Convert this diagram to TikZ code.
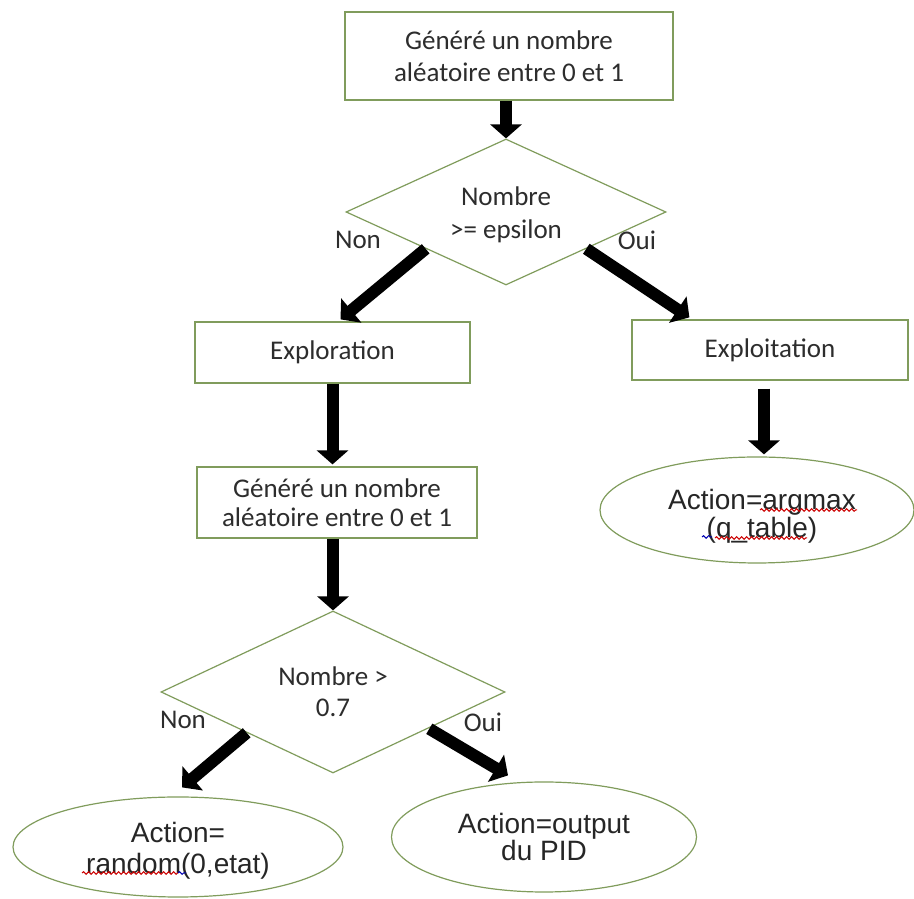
\documentclass[tikz,border=0pt]{standalone}
\usepackage{fontspec}
\setmainfont{Carlito}
\newfontfamily\arialfont{Liberation Sans}
\usetikzlibrary{shapes.geometric,arrows.meta,decorations.pathmorphing,calc}
\definecolor{boxgreen}{RGB}{128,156,92}
\definecolor{inkgray}{RGB}{45,45,45}
\tikzset{
  flowbox/.style={draw=boxgreen, line width=1.2pt, fill=white, inner sep=0pt,
    align=center, text=inkgray, font=\fontsize{27}{32}\selectfont},
  decision/.style={diamond, draw=boxgreen, line width=1.2pt, inner sep=0pt,
    shape aspect=2.2, align=center, text=inkgray, font=\fontsize{27}{31}\selectfont},
  outcome/.style={ellipse, draw=boxgreen, line width=1.2pt, inner sep=0pt,
    align=center, text=black!85},
  branch/.style={text=inkgray, font=\fontsize{27}{32}\selectfont},
  flow/.style={line width=12pt, -{Triangle[width=31pt,length=14pt]}},
  spell/.style={draw=red!80!black, line width=1pt, decorate,
    decoration={snake, amplitude=1.3pt, segment length=5pt}},
  grammar/.style={spell, draw=blue!70!black},
}
\begin{document}
\begin{tikzpicture}[x=1pt,y=1pt]
  \useasboundingbox[fill=white] (0,0) rectangle (914,899);

  % first draw
  \node[flowbox, minimum width=328pt, minimum height=88pt] (gen1) at (509,843)
    {Généré un nombre\\aléatoire entre 0 et 1};
  \node[decision, minimum width=320pt, minimum height=146pt,
        font=\fontsize{27}{33}\selectfont] (d1) at (506,687)
    {\rule{0pt}{24pt}Nombre\\>= epsilon};
  \node[branch] (non1) at (358,659) {Non};
  \node[branch] (oui1) at (637,659) {Oui};

  % exploration / exploitation
  \node[flowbox, minimum width=275pt, minimum height=61pt] (expl) at (332.5,546.5)
    {Exploration};
  \node[flowbox, minimum width=276pt, minimum height=60pt] (xploit) at (770,549)
    {Exploitation};
  \node[flowbox, minimum width=280pt, minimum height=71pt,
        font=\fontsize{27}{29}\selectfont] (gen2) at (337,396.5)
    {Généré un nombre\\aléatoire entre 0 et 1};
  \node[outcome, minimum width=314pt, minimum height=106pt,
        font=\arialfont\fontsize{28}{28}\selectfont] (ell3) at (757,389)
    {\hspace*{10pt}\rule{0pt}{32pt}Action=argmax\\\hspace*{10pt}(q\_table)};

  % second draw
  \node[decision, minimum width=344pt, minimum height=162pt] (d2) at (333,207)
    {Nombre >\\0.7};
  \node[branch] (non2) at (183,179) {Non};
  \node[branch] (oui2) at (483,177) {Oui};
  \node[outcome, minimum width=330pt, minimum height=100pt,
        font=\arialfont\fontsize{28}{31}\selectfont] (ell1) at (178,52)
    {\rule{0pt}{28pt}Action=\\random(0,etat)};
  \node[outcome, minimum width=305pt, minimum height=110pt,
        font=\arialfont\fontsize{28}{24}\selectfont] (ell2) at (544,62)
    {Action=output\\du PID};

  % connectors
  \draw[flow] (d1.north |- gen1.south) -- (d1.north);
  \draw[flow] (d1.south west) -- ([xshift=8pt,yshift=2pt]expl.north);
  \draw[flow] (d1.south east) -- ([xshift=58pt,yshift=2pt]xploit.north west);
  \draw[flow] (expl.south) -- ([yshift=2pt]expl.south |- gen2.north);
  \draw[flow] ([xshift=-6pt,yshift=-8pt]xploit.south)
           -- ([xshift=-6pt,yshift=2pt]xploit.south |- ell3.north);
  \draw[flow] (d2.north |- gen2.south) -- (d2.north);
  \draw[flow] (d2.south west) -- ([xshift=4pt,yshift=9pt]ell1.north);
  \draw[flow] ([xshift=10pt,yshift=4pt]d2.south east)
           -- ([xshift=-36pt,yshift=6pt]ell2.north);

  % spell-check underlines
  \draw[spell] ($(ell3.center)+(3,0)$) -- ++(97,0);
  \draw[grammar] ($(ell3.center)+(-55,-27)$) -- ++(10,0);
  \draw[spell] ($(ell3.center)+(-42,-28)$) -- ++(92,0);
  \draw[spell] ($(ell1.center)+(-96,-26)$) -- ++(96,0);
  \draw[grammar] ($(ell1.center)+(0,-26)$) -- ++(8,0);
\end{tikzpicture}
\end{document}
